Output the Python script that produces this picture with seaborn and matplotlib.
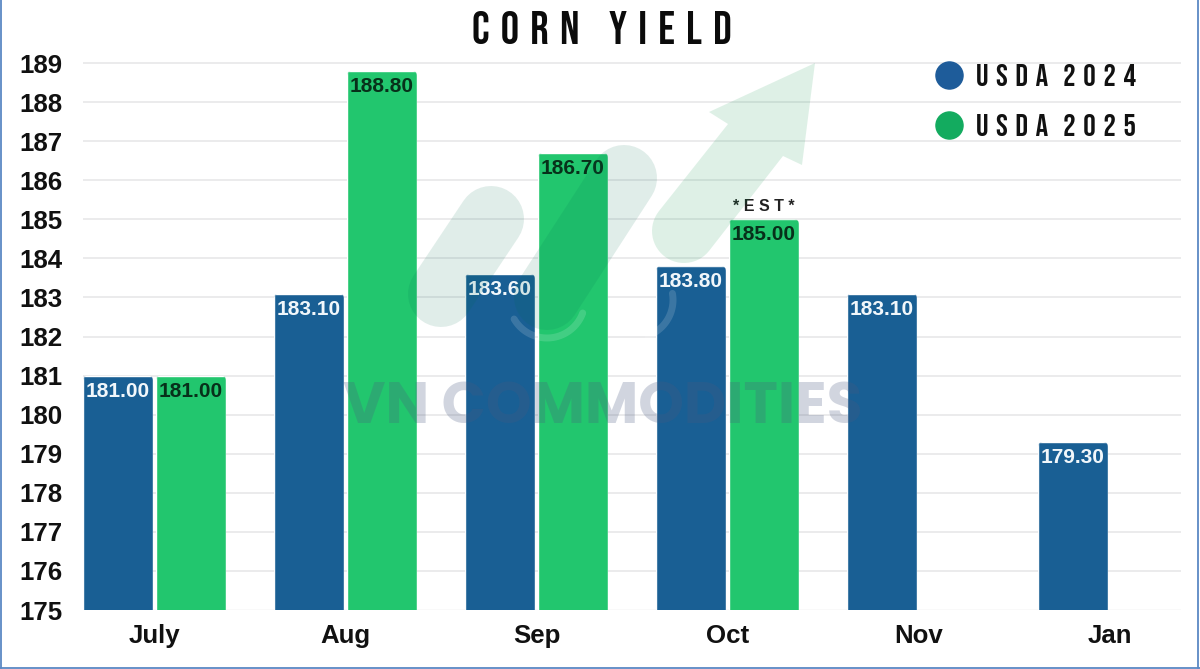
import numpy as np
import pandas as pd
import matplotlib
matplotlib.use("Agg")
import matplotlib.pyplot as plt
from matplotlib.lines import Line2D
from matplotlib.patches import FancyBboxPatch, Polygon
from matplotlib.transforms import IdentityTransform
import seaborn as sns

months = ["July", "Aug", "Sep", "Oct", "Nov", "Jan"]
usda_2024 = [181.00, 183.10, 183.60, 183.80, 183.10, 179.30]
usda_2025 = [181.00, 188.80, 186.70, 185.00, np.nan, np.nan]
series_names = ["USDA 2024", "USDA 2025"]
y_ticks = list(range(175, 190))
title_text = "CORN YIELD"

BLUE, GREEN = "#195f94", "#22c66e"
W, H = 1200, 669
CONDENSED = ["Bebas Neue", "Liberation Sans", "DejaVu Sans"]
HAIR = "\u200a"

def spaced(s, word_gap=3):
    """Letter-space a string: wide gap between letters, wider between words."""
    return (" " * word_gap).join((HAIR + " ").join(word) for word in s.split(" "))

sns.set_theme(style="white")
plt.rcParams["font.family"] = ["Liberation Sans", "DejaVu Sans"]

df = pd.DataFrame({
    "month": months * 2,
    "value": usda_2024 + usda_2025,
    "series": [series_names[0]] * 6 + [series_names[1]] * 6,
})

fig = plt.figure(figsize=(W / 100, H / 100), dpi=100, facecolor="white")
ax = fig.add_axes([83 / W, 1 - 610 / H, (1181 - 83) / W, (610 - 43.5) / H])
ax.set_facecolor("none")
ax.set_axisbelow(True)

sns.barplot(data=df, x="month", y="value", hue="series", order=months,
            hue_order=series_names, palette=[BLUE, GREEN], saturation=1,
            width=0.764, gap=0.041, legend=False, ax=ax, zorder=2)

ax.set_xlim((83 - 154.5) / 191, (1181 - 154.5) / 191)
ax.set_ylim(175, 175 + (610 - 43.5) / 39.07)
ax.set_yticks(y_ticks)
ax.set_xlabel("")
ax.set_ylabel("")
ax.grid(axis="y", color="#e7e7e9", lw=1.2)
ax.grid(axis="x", visible=False)
ax.get_ygridlines()[0].set_color("#f8f8f8")
sns.despine(ax=ax, left=True, bottom=True, top=True, right=True)
ax.tick_params(axis="y", length=0, pad=15, labelsize=18.6, labelcolor="#111111")
ax.tick_params(axis="x", length=0, pad=10, labelsize=18.6, labelcolor="#111111")
for t in ax.get_xticklabels() + ax.get_yticklabels():
    t.set_fontweight("bold")

# rounded tops + value labels
fig.canvas.draw()
for container, col in zip(ax.containers, ["#f1f7fb", "#07301a"]):
    for bar in container:
        h = bar.get_height()
        if not np.isfinite(h) or h <= 0:
            continue
        (x0, y0), (x1, y1) = ax.transData.transform(
            [(bar.get_x(), 175), (bar.get_x() + bar.get_width(), h)])
        clip = FancyBboxPatch((x0, y0 - 20), x1 - x0, y1 - y0 + 20,
                              boxstyle="round,pad=0,rounding_size=5",
                              transform=IdentityTransform())
        bar.set_clip_path(clip)
        ax.annotate(f"{h:.2f}", (bar.get_x() + bar.get_width() / 2, h),
                    xytext=(0, -15.5 * 0.72), textcoords="offset points",
                    ha="center", va="center", fontsize=15, fontweight="bold",
                    color=col, zorder=6)

# *EST* note above the October 2025 bar
oct_bar = [b for b in ax.containers[1] if abs(b.get_height() - 185.0) < 1e-6][0]
ax.annotate("* E S T *", (oct_bar.get_x() + oct_bar.get_width() / 2, 185.0),
            xytext=(0, 13 * 0.72), textcoords="offset points", ha="center",
            va="center", fontsize=11.5, fontweight="bold", color="#222222", zorder=6)

fig.suptitle(spaced(title_text, word_gap=4), x=601.5 / W, y=1 - 28 / H, va="center", ha="center",
             fontsize=33, fontweight="normal", family=CONDENSED, color="#0b0b0b")

handles = [Line2D([], [], ls="", marker="o", ms=19.5, mfc=c, mec=c)
           for c in ["#1e5c9a", "#13ab5f"]]
leg = fig.legend(handles, [spaced(s) for s in series_names], loc="upper left",
                 bbox_to_anchor=(930 / W, 1 - 64 / H), bbox_transform=fig.transFigure,
                 frameon=False, prop={"family": CONDENSED, "size": 22.5},
                 labelspacing=0.885, handletextpad=0.26, handlelength=1.2,
                 borderpad=0, borderaxespad=0)
for t in leg.get_texts():
    t.set_color("#111111")

# ---- watermark decoration, in pixel coordinates from the top-left ----
def fx(p):
    return p / W
def fy(p):
    return 1 - p / H

PILL = dict(color="#006e50", alpha=0.12, solid_capstyle="round", zorder=4,
            transform=fig.transFigure)
def capsule(x1, y1, x2, y2, r=33):
    fig.add_artist(Line2D([fx(x1), fx(x2)], [fy(y1), fy(y2)], lw=2 * r * 0.72, **PILL))

capsule(491, 219, 441, 294)
capsule(624, 178, 547, 297)
capsule(635, 300, 635.01, 300, r=32)

def arc(cx, cy, r, a0, a1, lw=5, alpha=0.15):
    a = np.radians(np.linspace(a0, a1, 40))
    fig.add_artist(Line2D(fx(cx + r * np.cos(a)), fy(cy + r * np.sin(a)), color="white",
                          lw=lw, alpha=alpha, solid_capstyle="round", zorder=4,
                          transform=fig.transFigure))
arc(547, 300, 38, 20, 150)
arc(635, 300, 38, -10, 70)

tip = (815, 63)
right_barb, right_notch = (802, 165), (783, 156)
left_notch, left_barb = (728, 124), (709, 112)
c = np.array([684.0, 231.0])
r_arrow = 32
mid = (np.array(left_notch) + np.array(right_notch)) / 2
d = (mid - c) / np.linalg.norm(mid - c)
base = np.degrees(np.arctan2(d[1], d[0]))
angs = np.radians(np.linspace(base + 90, base + 270, 30))
arc_pts = np.c_[c[0] + r_arrow * np.cos(angs), c[1] + r_arrow * np.sin(angs)]
pts = np.vstack([tip, right_barb, right_notch, arc_pts, left_notch, left_barb])
fig.add_artist(Polygon(np.c_[fx(pts[:, 0]), fy(pts[:, 1])], closed=True, fc="#009245",
                       ec="none", alpha=0.13, zorder=4, transform=fig.transFigure))

fig.text(603 / W, 1 - 409 / H, "VN COMMODITIES", ha="center", va="center",
         family=["Poppins", "Lato"], fontweight="bold", fontsize=41.9, color="#4a5a80",
         alpha=0.25, zorder=5)

# thin frame on left, right and bottom
for xs, ys in [((1, 1), (0, 668)), ((1198, 1198), (0, 668)), ((0, 1200), (668, 668))]:
    fig.add_artist(Line2D(fx(np.array(xs)), fy(np.array(ys)), color="#5b88c4", lw=1.3,
                          transform=fig.transFigure, zorder=7))

fig.savefig("out.png", dpi=100, facecolor="white")
